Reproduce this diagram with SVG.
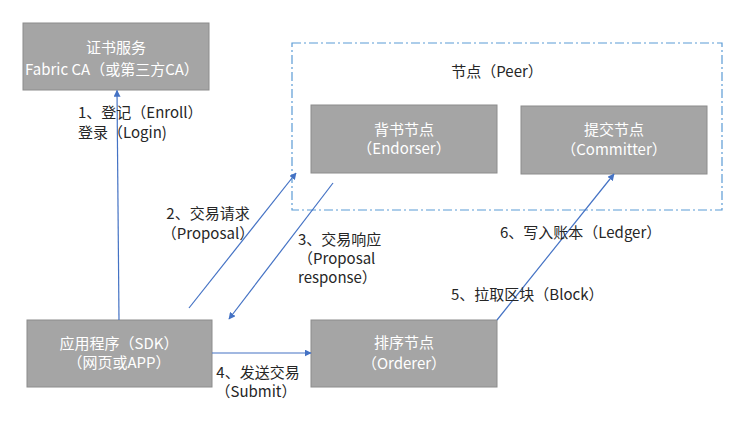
<svg xmlns="http://www.w3.org/2000/svg" width="750" height="429" viewBox="0 0 750 429">
<style>
.box{fill:#A5A5A5;stroke:#8C8C8C;stroke-width:1}
.bt{font-family:"Noto Sans CJK SC","Liberation Sans",sans-serif;font-size:15px;fill:#FFFFFF;text-anchor:middle}
.lb{font-family:"Noto Sans CJK SC","Liberation Sans",sans-serif;font-size:15px;fill:#262626}
.c{fill:none;stroke:#4472C4;stroke-width:1.2;marker-end:url(#ah)}
</style>
<defs>
<marker id="ah" viewBox="0 0 10 10" refX="9" refY="5" markerWidth="7" markerHeight="7" markerUnits="userSpaceOnUse" orient="auto">
<path d="M0,0 L10,5 L0,10 z" fill="#4472C4"/>
</marker>
</defs>
<rect width="750" height="429" fill="#FFFFFF"/>
<g id="peer-group">
<rect x="292" y="43" width="430" height="167" fill="none" stroke="#5B9BD5" stroke-width="1.2" stroke-dasharray="9 3 2 3"/>
<text class="lb" x="497" y="77" text-anchor="middle">节点（Peer）</text>
</g>
<g id="ca">
<rect class="box" x="23" y="23" width="186" height="67"/>
<text class="bt" x="116" y="53">证书服务</text>
<text class="bt" x="112" y="75">Fabric CA（或第三方CA）</text>
</g>
<g id="endorser">
<rect class="box" x="311" y="105" width="186" height="68"/>
<text class="bt" x="404" y="135">背书节点</text>
<text class="bt" x="404" y="154">（Endorser）</text>
</g>
<g id="committer">
<rect class="box" x="521" y="106" width="186" height="68"/>
<text class="bt" x="614" y="135">提交节点</text>
<text class="bt" x="614" y="155">（Committer）</text>
</g>
<g id="sdk">
<rect class="box" x="27" y="320" width="185" height="67"/>
<text class="bt" x="119" y="349">应用程序（SDK）</text>
<text class="bt" x="119" y="368">（网页或APP）</text>
</g>
<g id="orderer">
<rect class="box" x="311" y="320" width="186" height="67"/>
<text class="bt" x="404" y="348">排序节点</text>
<text class="bt" x="404" y="369">（Orderer）</text>
</g>
<g id="connectors">
<path class="c" d="M119,320 L117,90.5"/>
<path class="c" d="M189,308 L296,173"/>
<path class="c" d="M333,183 L229,319"/>
<path class="c" d="M212,353 L311,353"/>
<path class="c" d="M497,320 L614,174"/>
</g>
<g id="labels">
<text class="lb" x="78" y="118">1、登记（Enroll）</text>
<text class="lb" x="78" y="138">登录（Login)</text>
<text class="lb" x="208" y="219" text-anchor="middle">2、交易请求</text>
<text class="lb" x="208" y="239" text-anchor="middle">（Proposal）</text>
<text class="lb" x="298" y="245">3、交易响应</text>
<text class="lb" x="298" y="264">（Proposal</text>
<text class="lb" x="298" y="283">response）</text>
<text class="lb" x="258" y="378" text-anchor="middle">4、发送交易</text>
<text class="lb" x="256" y="397" text-anchor="middle">（Submit）</text>
<text class="lb" x="451" y="300">5、拉取区块（Block）</text>
<text class="lb" x="500" y="238">6、写入账本（Ledger）</text>
</g>
</svg>
